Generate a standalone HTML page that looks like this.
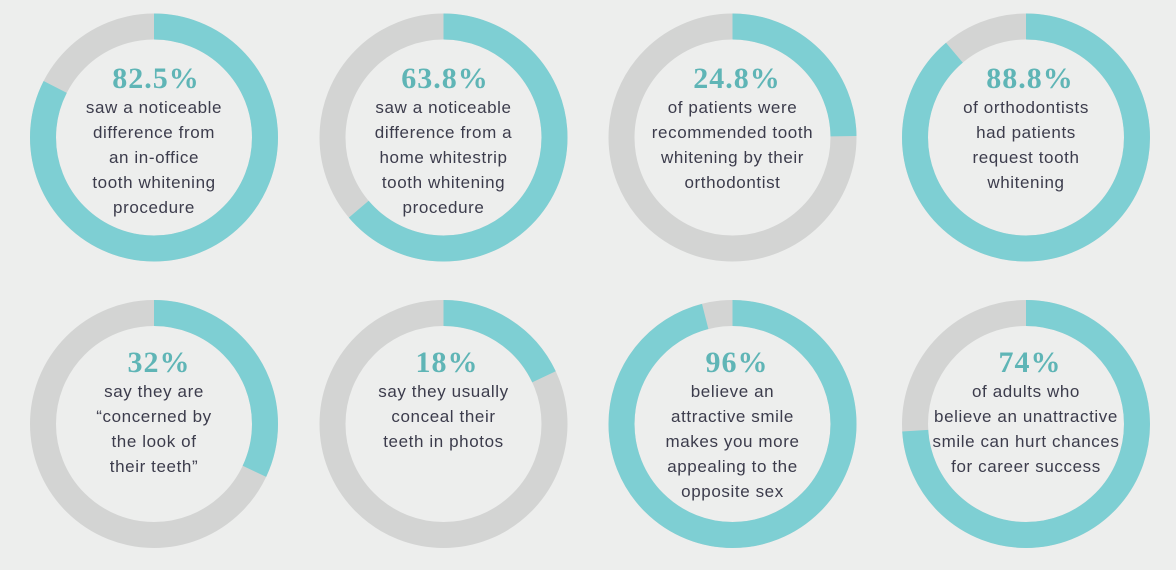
<!DOCTYPE html>
<html>
<head>
<meta charset="utf-8">
<style>
  html, body { margin: 0; padding: 0; background: #edeeed; }
  body { width: 1176px; height: 570px; overflow: hidden; }
  svg { display: block; }
  .pct { font-family: "Liberation Serif", serif; font-weight: bold; font-size: 30px; fill: #5fb5b6; letter-spacing: 1px; text-anchor: middle; }
  .txt { font-family: "Liberation Sans", sans-serif; font-size: 17px; fill: #3c3c4c; letter-spacing: 0.6px; text-anchor: middle; }
  .bg { fill: none; stroke: #d3d4d3; stroke-width: 26; }
  .fg { fill: none; stroke: #7ecfd3; stroke-width: 26; stroke-linecap: butt; }
</style>
</head>
<body>
<svg width="1176" height="570" viewBox="0 0 1176 570" xmlns="http://www.w3.org/2000/svg">
  <rect width="1176" height="570" fill="#edeeed"/>

  <!-- Row 1 -->
  <circle class="bg" cx="154" cy="137.5" r="111"/>
  <circle class="fg" cx="154" cy="137.5" r="111" stroke-dasharray="575.38 697.43" transform="rotate(-90 154 137.5)"/>
  <text class="pct" x="156" y="88">82.5%</text>
  <text class="txt" x="154" y="113">saw a noticeable</text>
  <text class="txt" x="154" y="138">difference from</text>
  <text class="txt" x="154" y="163">an in-office</text>
  <text class="txt" x="154" y="188">tooth whitening</text>
  <text class="txt" x="154" y="213">procedure</text>

  <circle class="bg" cx="443.5" cy="137.5" r="111"/>
  <circle class="fg" cx="443.5" cy="137.5" r="111" stroke-dasharray="444.96 697.43" transform="rotate(-90 443.5 137.5)"/>
  <text class="pct" x="445" y="88">63.8%</text>
  <text class="txt" x="443.5" y="113">saw a noticeable</text>
  <text class="txt" x="443.5" y="138">difference from a</text>
  <text class="txt" x="443.5" y="163">home whitestrip</text>
  <text class="txt" x="443.5" y="188">tooth whitening</text>
  <text class="txt" x="443.5" y="213">procedure</text>

  <circle class="bg" cx="732.5" cy="137.5" r="111"/>
  <circle class="fg" cx="732.5" cy="137.5" r="111" stroke-dasharray="172.96 697.43" transform="rotate(-90 732.5 137.5)"/>
  <text class="pct" x="737" y="88">24.8%</text>
  <text class="txt" x="732.5" y="113">of patients were</text>
  <text class="txt" x="732.5" y="138">recommended tooth</text>
  <text class="txt" x="732.5" y="163">whitening by their</text>
  <text class="txt" x="732.5" y="188">orthodontist</text>

  <circle class="bg" cx="1026" cy="137.5" r="111"/>
  <circle class="fg" cx="1026" cy="137.5" r="111" stroke-dasharray="619.32 697.43" transform="rotate(-90 1026 137.5)"/>
  <text class="pct" x="1030" y="88">88.8%</text>
  <text class="txt" x="1026" y="113">of orthodontists</text>
  <text class="txt" x="1026" y="138">had patients</text>
  <text class="txt" x="1026" y="163">request tooth</text>
  <text class="txt" x="1026" y="188">whitening</text>

  <!-- Row 2 -->
  <circle class="bg" cx="154" cy="424" r="111"/>
  <circle class="fg" cx="154" cy="424" r="111" stroke-dasharray="223.18 697.43" transform="rotate(-90 154 424)"/>
  <text class="pct" x="159" y="372">32%</text>
  <text class="txt" x="154" y="397">say they are</text>
  <text class="txt" x="154" y="422">“concerned by</text>
  <text class="txt" x="154" y="447">the look of</text>
  <text class="txt" x="154" y="472">their teeth”</text>

  <circle class="bg" cx="443.5" cy="424" r="111"/>
  <circle class="fg" cx="443.5" cy="424" r="111" stroke-dasharray="125.54 697.43" transform="rotate(-90 443.5 424)"/>
  <text class="pct" x="447" y="372">18%</text>
  <text class="txt" x="443.5" y="397">say they usually</text>
  <text class="txt" x="443.5" y="422">conceal their</text>
  <text class="txt" x="443.5" y="447">teeth in photos</text>

  <circle class="bg" cx="732.5" cy="424" r="111"/>
  <circle class="fg" cx="732.5" cy="424" r="111" stroke-dasharray="669.53 697.43" transform="rotate(-90 732.5 424)"/>
  <text class="pct" x="737" y="372">96%</text>
  <text class="txt" x="732.5" y="397">believe an</text>
  <text class="txt" x="732.5" y="422">attractive smile</text>
  <text class="txt" x="732.5" y="447">makes you more</text>
  <text class="txt" x="732.5" y="472">appealing to the</text>
  <text class="txt" x="732.5" y="497">opposite sex</text>

  <circle class="bg" cx="1026" cy="424" r="111"/>
  <circle class="fg" cx="1026" cy="424" r="111" stroke-dasharray="516.1 697.43" transform="rotate(-90 1026 424)"/>
  <text class="pct" x="1030" y="372">74%</text>
  <text class="txt" x="1026" y="397">of adults who</text>
  <text class="txt" x="1026" y="422">believe an unattractive</text>
  <text class="txt" x="1026" y="447">smile can hurt chances</text>
  <text class="txt" x="1026" y="472">for career success</text>
</svg>
</body>
</html>
